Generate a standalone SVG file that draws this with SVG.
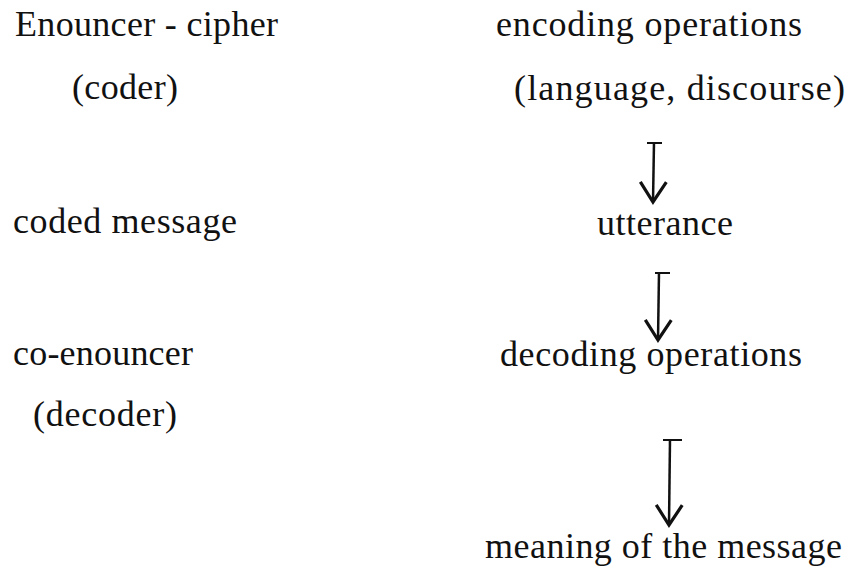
<svg xmlns="http://www.w3.org/2000/svg" width="847" height="571" viewBox="0 0 847 571">
  <defs>
    <style>
      text { font-family: "Liberation Serif", "Times New Roman", serif; font-size: 36px; fill: #111; }
      .conn { stroke: #111; stroke-width: 2.5; fill: none; }
      .tick { stroke: #111; stroke-width: 2; fill: none; }
    </style>
    <marker id="vhead" markerUnits="userSpaceOnUse" viewBox="-24 -16 27 32" refX="0" refY="0" markerWidth="27" markerHeight="32" orient="auto">
      <path d="M-20,-13 L0,0 L-20,13" fill="none" stroke="#111" stroke-width="3.2" stroke-linejoin="miter"/>
    </marker>
  </defs>
  <rect width="847" height="571" fill="#ffffff"/>

  <g id="enouncer"><text x="15" y="36" textLength="263" lengthAdjust="spacing">Enouncer - cipher</text></g>
  <g id="coder"><text x="72" y="99" textLength="106" lengthAdjust="spacing">(coder)</text></g>
  <g id="coded-message"><text x="13" y="233" textLength="224" lengthAdjust="spacing">coded message</text></g>
  <g id="co-enouncer"><text x="13" y="365" textLength="180" lengthAdjust="spacing">co-enouncer</text></g>
  <g id="decoder"><text x="33" y="426" textLength="144" lengthAdjust="spacing">(decoder)</text></g>

  <g id="encoding-operations"><text x="496" y="36" textLength="306" lengthAdjust="spacing">encoding operations</text></g>
  <g id="language-discourse"><text x="514" y="100" textLength="331" lengthAdjust="spacing">(language, discourse)</text></g>
  <g id="utterance"><text x="597" y="235" textLength="136" lengthAdjust="spacing">utterance</text></g>
  <g id="decoding-operations"><text x="500" y="366" textLength="302" lengthAdjust="spacing">decoding operations</text></g>
  <g id="meaning"><text x="485" y="558" textLength="357" lengthAdjust="spacing">meaning of the message</text></g>

  <g id="connectors">
    <line class="tick" x1="647" y1="143" x2="662" y2="143"/>
    <line class="conn" x1="654" y1="142" x2="653" y2="202" marker-end="url(#vhead)"/>
    <line class="tick" x1="655" y1="273" x2="670" y2="273"/>
    <line class="conn" x1="659" y1="272" x2="658" y2="340" marker-end="url(#vhead)"/>
    <line class="tick" x1="663" y1="440" x2="682" y2="440"/>
    <line class="conn" x1="670" y1="439" x2="669" y2="525" marker-end="url(#vhead)"/>
  </g>
</svg>
